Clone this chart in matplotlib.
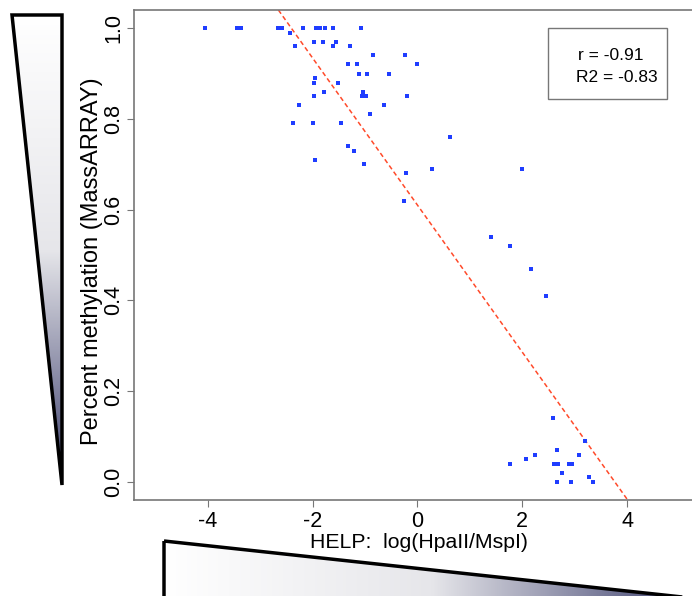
import numpy as np
import matplotlib.pyplot as plt
from matplotlib.colors import LinearSegmentedColormap
from matplotlib.patches import Polygon, Rectangle

plt.rcParams['font.family'] = ['Liberation Sans', 'DejaVu Sans']

# data #
help_x = [-4.06, -3.44, -3.37, -2.67, -2.61, -2.58, -2.44, -2.19, -1.93, -1.86,
          -1.77, -1.62, -1.07, -1.98, -1.81, -1.56, -1.62, -2.33, -1.28, -0.85,
          -0.23, -1.33, -1.15, -0.01, -1.12, -0.96, -0.55, -1.96, -1.98, -1.51,
          -1.79, -1.03, -1.06, -0.99, -1.98, -0.19, -2.27, -0.64, -0.90, -2.37,
          -2.00, -1.46, 0.63, -1.33, -1.22, -1.95, -1.02, 0.27, -0.22, -0.25,
          1.99, 1.41, 1.77, 2.16, 2.45,
          2.58, 3.19, 2.67, 2.24, 3.09, 2.08, 1.76, 2.60, 2.69, 2.90,
          2.95, 2.76, 3.28, 2.67, 2.93, 3.36]
mass_y = [1.00, 1.00, 1.00, 1.00, 1.00, 1.00, 0.99, 1.00, 1.00, 1.00,
          1.00, 1.00, 1.00, 0.97, 0.97, 0.97, 0.96, 0.96, 0.96, 0.94,
          0.94, 0.92, 0.92, 0.92, 0.90, 0.90, 0.90, 0.89, 0.88, 0.88,
          0.86, 0.86, 0.85, 0.85, 0.85, 0.85, 0.83, 0.83, 0.81, 0.79,
          0.79, 0.79, 0.76, 0.74, 0.73, 0.71, 0.70, 0.69, 0.68, 0.62,
          0.69, 0.54, 0.52, 0.47, 0.41,
          0.14, 0.09, 0.07, 0.06, 0.06, 0.05, 0.04, 0.04, 0.04, 0.04,
          0.04, 0.02, 0.01, 0.00, 0.00, 0.00]
fit_intercept = 0.61
fit_slope = -0.162
r_value = -0.91
r2_value = -0.83
x_ticks = [-4, -2, 0, 2, 4]
y_ticks = [0.0, 0.2, 0.4, 0.6, 0.8, 1.0]
##############

W, H = 692, 596
fig = plt.figure(figsize=(W / 100, H / 100), dpi=100)

# decoration layer in pixel coords: the two shaded wedges
deco = fig.add_axes([0, 0, 1, 1])
deco.axis('off')

wedge_cmap = LinearSegmentedColormap.from_list('wedge', ['#ffffff', '#e6e6ea', '#3b3e6c'])
grad = np.linspace(0, 1, 256)

left_tri = Polygon([(12, 15), (62, 15), (62, 485)], closed=True,
                   fill=False, edgecolor='black', linewidth=2.5, zorder=3)
img = deco.imshow(grad.reshape(-1, 1), cmap=wedge_cmap, aspect='auto',
                  extent=(12, 62, 485, 15), zorder=1)
deco.add_patch(left_tri)
img.set_clip_path(left_tri)

bottom_tri = Polygon([(164, 541), (164, 606), (710, 606), (710, 600)], closed=True,
                     fill=False, edgecolor='black', linewidth=2.5, zorder=3)
img2 = deco.imshow(grad.reshape(1, -1), cmap=wedge_cmap, aspect='auto',
                   extent=(164, 700, 606, 541), zorder=1)
deco.add_patch(bottom_tri)
img2.set_clip_path(bottom_tri)
deco.set_xlim(0, W)
deco.set_ylim(H, 0)

# main scatter
ax = fig.add_axes([134 / W, 1 - 500 / H, 1 - 134 / W, 490 / H])
ax.patch.set_alpha(0)
ax.scatter(help_x, mass_y, marker='s', s=9, color='#1f3dff', linewidths=0, zorder=3)
ax.axline((0, fit_intercept), slope=fit_slope, color='#ff4a2a',
          linestyle=(0, (3, 2)), linewidth=1.1, zorder=2)

ax.set_xlim(-5.41, 5.24)
ax.set_ylim(-0.04, 1.04)
ax.set_xticks(x_ticks)
ax.set_xticklabels([str(t) for t in x_ticks])
ax.set_yticks(y_ticks)
ax.set_yticklabels(['%.1f' % t for t in y_ticks], rotation=90, va='center')
ax.tick_params(direction='out', length=5, color='#777777', labelsize=15.5)
ax.tick_params(axis='x', pad=3)
ax.tick_params(axis='y', pad=2)

for side in ['left', 'bottom', 'top']:
    ax.spines[side].set_color('#777777')
    ax.spines[side].set_linewidth(1.2)
ax.spines['right'].set_visible(False)

ax.set_xlabel('HELP:  log(HpaII/MspI)', fontsize=15.3)
ax.xaxis.set_label_coords(0.511, -0.067)
ax.set_ylabel('Percent methylation (MassARRAY)', fontsize=17, va='center')
ax.yaxis.set_label_coords(-0.0753, 0.488)

# r / R2 box
ax.add_patch(Rectangle((0.742, 0.818), 0.213, 0.145, transform=ax.transAxes,
                       facecolor='white', edgecolor='#777777', linewidth=1, zorder=4))
ax.text(0.796, 0.908, 'r = %.2f' % r_value, transform=ax.transAxes,
        fontsize=12.5, ha='left', va='center', zorder=5)
ax.text(0.793, 0.863, 'R2 = %.2f' % r2_value, transform=ax.transAxes,
        fontsize=12.5, ha='left', va='center', zorder=5)

plt.savefig('out.png', dpi=100)
